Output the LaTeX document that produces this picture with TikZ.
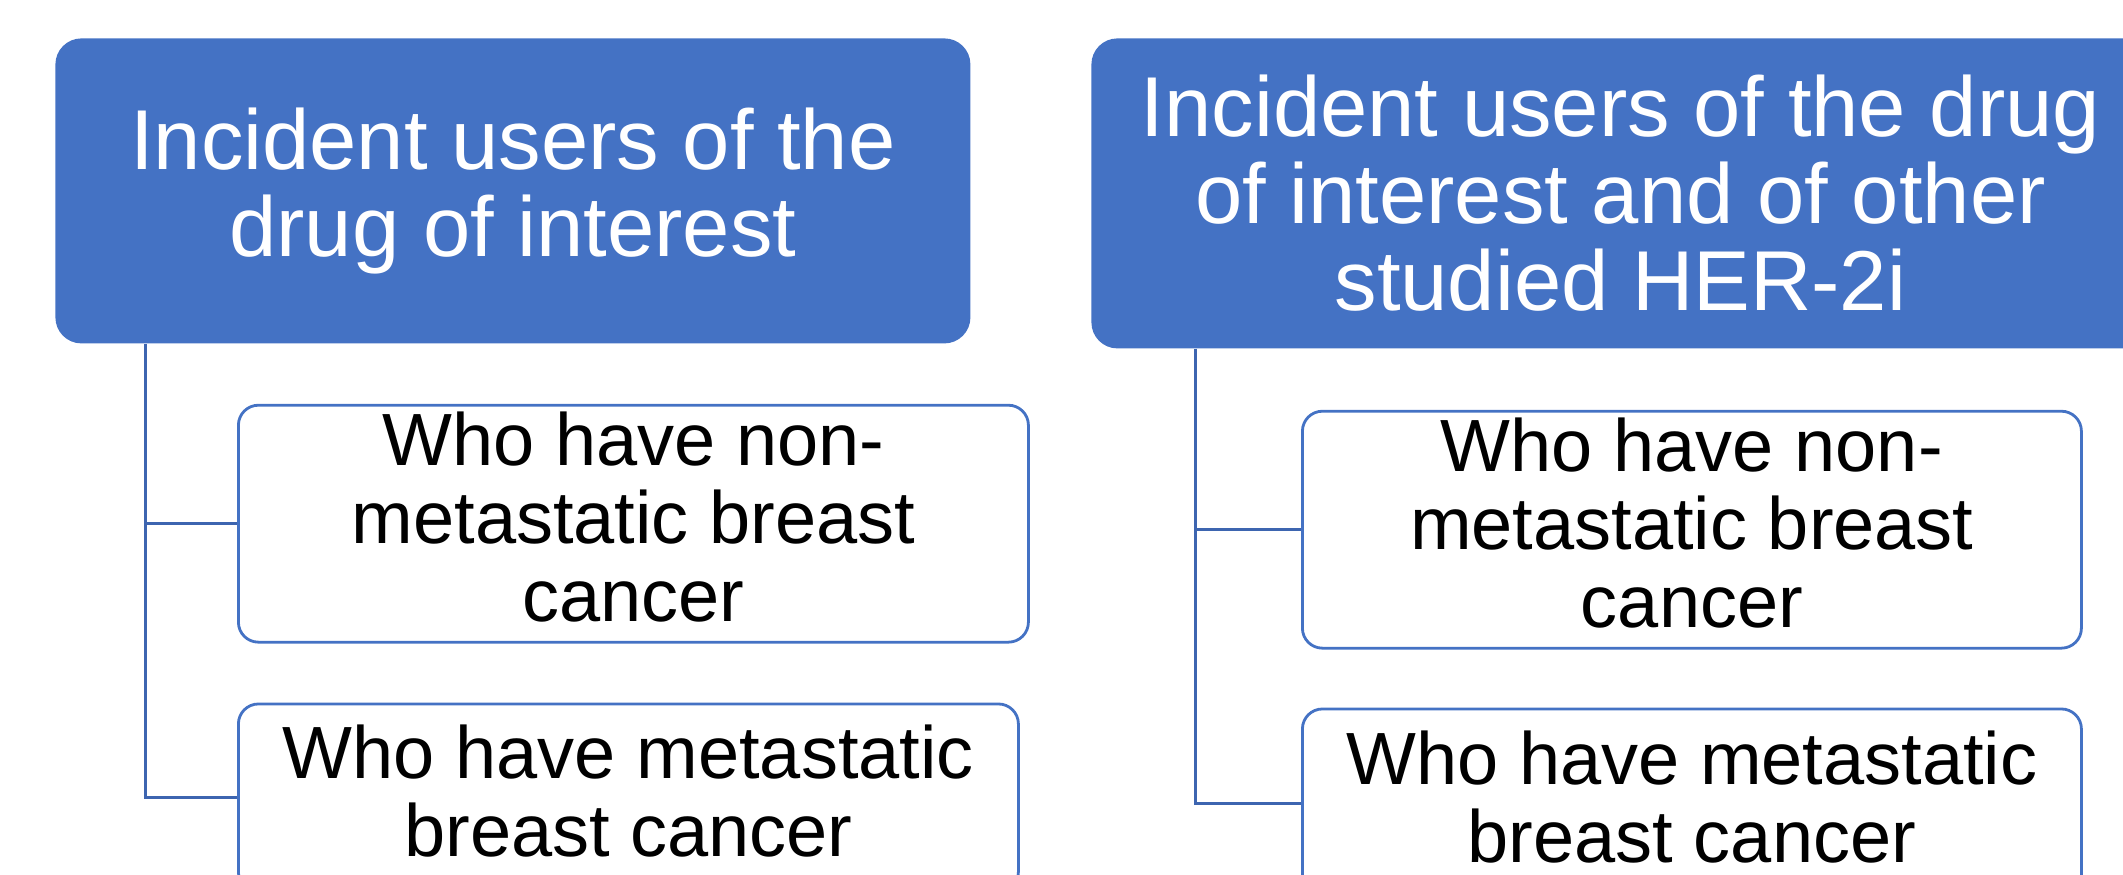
\documentclass[tikz,border=0pt]{standalone}
\usepackage{fontspec}
\setmainfont{Liberation Sans}
\usepackage{xcolor}
\usepackage{tikz}
\usetikzlibrary{
  positioning,
  calc
}
\definecolor{officeblue}{HTML}{4472C4}
\definecolor{linkblue}{HTML}{3D65B0}

\begin{document}
\begin{tikzpicture}[
      x=0.5pt, y=-0.5pt,
      headbox/.style={rectangle, rounded corners=13pt, fill=officeblue, text=white, align=center, anchor=north west,
        font=\fontsize{42.5pt}{43.5pt}\selectfont},
      subbox/.style={rectangle, rounded corners=10pt, draw=officeblue, line width=1.4pt, fill=white, align=center,
        font=\fontsize{37pt}{39pt}\selectfont, execute at end node={\rule[-7pt]{0pt}{0pt}}},
      link/.style={draw=linkblue, line width=1.5pt}
    ]
      \path[use as bounding box] (0,0) rectangle (2123,874);
      \clip (0,0) rectangle (2123,874);

      % Heads
      \node[headbox, minimum width=457.5pt, minimum height=152.5pt] (top1) at (55,38) {Incident users of the\\drug of interest};
      \node[headbox, minimum width=529pt, minimum height=155pt] (top2) at (1091,38) {Incident users of the drug\\of interest and of other\\studied HER-2i};

      % Sub groups
      \node[subbox, below right=30pt and 91pt of top1.south west, minimum width=395pt, minimum height=117.5pt] (sub1a) {Who have non-\\metastatic breast\\cancer};
      \node[subbox, below right=29.5pt and 0pt of sub1a.south west, minimum width=390pt, minimum height=94pt] (sub1b) {Who have metastatic\\breast cancer};
      \node[subbox, below right=30.5pt and 105pt of top2.south west, minimum width=389.5pt, minimum height=117pt] (sub2a) {Who have non-\\metastatic breast\\cancer};
      \node[subbox, below right=29pt and 0pt of sub2a.south west, minimum width=389.5pt, minimum height=95pt] (sub2b) {Who have metastatic\\breast cancer};

      % Links
      \coordinate (trunk1) at ([xshift=45pt]top1.south west);
      \coordinate (trunk2) at ([xshift=52pt]top2.south west);
      \draw[link] (trunk1) |- (sub1a.west);
      \draw[link] (trunk1) |- (sub1b.west);
      \draw[link] (trunk2) |- (sub2a.west);
      \draw[link] (trunk2) |- (sub2b.west);
    \end{tikzpicture}
\end{document}
